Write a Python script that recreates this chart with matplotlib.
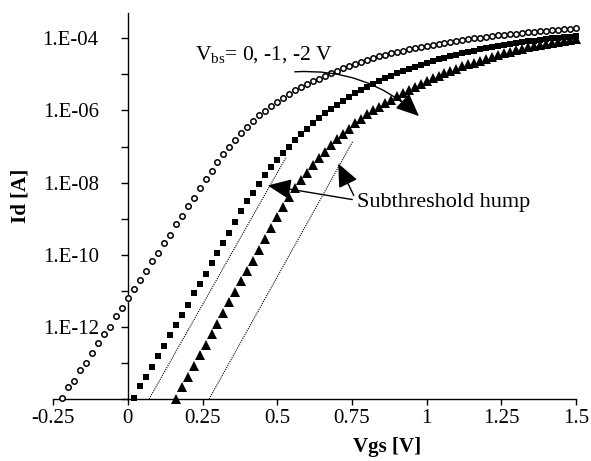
import numpy as np
import matplotlib
matplotlib.use("Agg")
import matplotlib.pyplot as plt
from matplotlib.patches import FancyArrowPatch
from matplotlib.ticker import FixedLocator, FixedFormatter, NullFormatter

plt.rcParams['font.family'] = ['Liberation Serif', 'DejaVu Serif']

# Gate sweep step and first point of each curve [V]
VGS_STEP = 0.02
vgs0_start = -0.22
vgs1_start = 0.02
vgs2_start = 0.16

# log10(Id) for Vbs = 0 V (open circles)
log_id_vbs0 = [
    -13.97, -13.66, -13.51, -13.19, -13.00, -12.72, -12.44, -12.21, -11.99, -11.70,
    -11.47, -11.19, -10.96, -10.69, -10.44, -10.18, -9.94, -9.68, -9.44, -9.16,
    -8.93, -8.65, -8.42, -8.15, -7.91, -7.68, -7.44, -7.21, -7.01, -6.81,
    -6.63, -6.46, -6.30, -6.13, -6.01, -5.88, -5.76, -5.65, -5.54,
    -5.44, -5.35, -5.27, -5.19, -5.12, -5.04, -4.97, -4.90, -4.83, -4.77,
    -4.71, -4.65, -4.60, -4.55, -4.50, -4.46, -4.42, -4.38, -4.34, -4.30,
    -4.27, -4.24, -4.21, -4.18, -4.15, -4.12, -4.10, -4.07, -4.05, -4.02,
    -4.00, -3.98, -3.96, -3.94, -3.92, -3.90, -3.88, -3.87, -3.85, -3.83,
    -3.82, -3.80, -3.79, -3.77, -3.76, -3.74, -3.73, -3.72,
]

# log10(Id) for Vbs = -1 V (filled squares)
log_id_vbs1 = [
    -13.97, -13.65, -13.38, -13.12, -12.80, -12.54, -12.23, -11.94, -11.67, -11.40,
    -11.07, -10.80, -10.53, -10.22, -9.94, -9.67, -9.39, -9.08, -8.80, -8.52,
    -8.29, -8.03, -7.80, -7.58, -7.36, -7.18, -7.00, -6.82, -6.66, -6.50,
    -6.35, -6.21, -6.08, -5.96, -5.84, -5.73, -5.62, -5.52, -5.43, -5.34,
    -5.26, -5.18, -5.11, -5.04, -4.97, -4.91, -4.85, -4.79, -4.73, -4.68,
    -4.63, -4.58, -4.54, -4.49, -4.45, -4.41, -4.37, -4.34, -4.30, -4.27,
    -4.24, -4.21, -4.18, -4.16, -4.13, -4.11, -4.08, -4.06, -4.04, -4.02,
    -4.00, -3.98, -3.97, -3.95, -3.94,
]

# log10(Id) for Vbs = -2 V (filled triangles)
log_id_vbs2 = [
    -14.00, -13.68, -13.40, -13.09, -12.79, -12.49, -12.21, -11.92, -11.62, -11.31,
    -11.03, -10.74, -10.46, -10.18, -9.88, -9.56, -9.25, -8.95, -8.67, -8.40,
    -8.15, -7.92, -7.72, -7.52, -7.33, -7.15, -6.97, -6.80, -6.65, -6.50,
    -6.36, -6.23, -6.11, -6.00, -5.90, -5.80, -5.70, -5.61, -5.52, -5.43,
    -5.34, -5.26, -5.18, -5.11, -5.04, -4.97, -4.90, -4.84, -4.78, -4.72,
    -4.67, -4.62, -4.57, -4.52, -4.47, -4.42, -4.38, -4.33, -4.29, -4.25,
    -4.22, -4.18, -4.15, -4.12, -4.10, -4.07, -4.05, -4.03,
]

# Ideal subthreshold-slope reference lines: (Vgs, log10 Id) end points
ref_line1_vgs = [0.071, 0.530]
ref_line1_log = [-14.0, -7.29]
ref_line2_vgs = [0.272, 0.752]
ref_line2_log = [-14.0, -6.87]

# Axis ticks
x_ticks = [-0.25, 0, 0.25, 0.5, 0.75, 1, 1.25, 1.5]
x_tick_labels = ['-0.25', '0', '0.25', '0.5', '0.75', '1', '1.25', '1.5']
y_major_ticks = [1e-12, 1e-10, 1e-8, 1e-6, 1e-4]
y_tick_labels = ['1.E-12', '1.E-10', '1.E-08', '1.E-06', '1.E-04']
y_minor_ticks = [1e-14, 1e-13, 1e-11, 1e-9, 1e-7, 1e-5]


def grid(start, n):
    return np.round(start + VGS_STEP * np.arange(n), 2)


vgs0 = grid(vgs0_start, len(log_id_vbs0))
vgs1 = grid(vgs1_start, len(log_id_vbs1))
vgs2 = grid(vgs2_start, len(log_id_vbs2))

W, H = 591, 461
fig = plt.figure(figsize=(W / 100, H / 100), dpi=100)
ax = fig.add_axes([53.2 / W, 1 - 399 / H, (575.9 - 53.2) / W, (399 - 13) / H])

ax.set_yscale('log')
ax.set_xlim(-0.25, 1.5)
ax.set_ylim(1e-14, 10 ** (-4 + 25.3 / 36))

# Reference lines
ax.plot(ref_line1_vgs, 10.0 ** np.array(ref_line1_log), color='black',
        linestyle=(0, (1, 1)), linewidth=0.8)
ax.plot(ref_line2_vgs, 10.0 ** np.array(ref_line2_log), color='black',
        linestyle=(0, (1, 1)), linewidth=0.8)

# Measured curves
ax.plot(vgs0, 10.0 ** np.array(log_id_vbs0), linestyle='none', marker='o',
        markersize=3.9, markerfacecolor='white', markeredgecolor='black',
        markeredgewidth=1.1, clip_on=False, zorder=3)
ax.plot(vgs1, 10.0 ** np.array(log_id_vbs1), linestyle='none', marker='s',
        markersize=4.3, color='black', markeredgewidth=0, clip_on=False, zorder=4)
ax.plot(vgs2, 10.0 ** np.array(log_id_vbs2), linestyle='none', marker='^',
        markersize=7.0, color='black', markeredgewidth=0, clip_on=False, zorder=5)

# Spines and ticks
for s in ('top', 'right'):
    ax.spines[s].set_visible(False)
ax.spines['left'].set_position(('data', 0))
ax.spines['left'].set_linewidth(1.0)
ax.spines['bottom'].set_linewidth(1.0)

ax.xaxis.set_major_locator(FixedLocator(x_ticks))
ax.xaxis.set_major_formatter(FixedFormatter(x_tick_labels))
ax.yaxis.set_major_locator(FixedLocator(y_major_ticks))
ax.yaxis.set_major_formatter(FixedFormatter(y_tick_labels))
ax.yaxis.set_minor_locator(FixedLocator(y_minor_ticks))
ax.yaxis.set_minor_formatter(NullFormatter())
ax.tick_params(axis='x', direction='out', length=4, width=1.0, labelsize=15, pad=3)
ax.tick_params(axis='y', which='both', direction='out', length=5, width=1.0)
ax.tick_params(axis='y', which='major', labelsize=15, pad=16)

ax.set_xlabel('Vgs [V]', fontsize=15, fontweight='bold')
ax.xaxis.set_label_coords((387 - 53.2) / (575.9 - 53.2), -(437 - 399) / (399 - 13))
ax.set_ylabel('Id [A]', fontsize=15, fontweight='bold', va='center')
ax.yaxis.set_label_coords((20 - 53.2) / (575.9 - 53.2), (399 - 196) / (399 - 13))


def px(x, y):
    # figure pixel -> figure fraction
    return (x / W, 1 - y / H)


# Annotations
fig.text(*px(195, 60), r'V$_{\mathregular{bs}}$= 0, -1, -2 V', fontsize=15.5,
         ha='left', va='baseline')
fig.text(*px(357, 207), 'Subthreshold hump', fontsize=16, ha='left', va='baseline')

arrow_kw = dict(transform=fig.transFigure, color='black', linewidth=1.0,
                arrowstyle='-|>,head_length=0.8,head_width=0.35', mutation_scale=18)
fig.patches.append(FancyArrowPatch(px(292, 72), px(421, 118),
                                   connectionstyle='arc3,rad=-0.22', **arrow_kw))
fig.patches.append(FancyArrowPatch(px(355, 200), px(265, 185), **arrow_kw))
fig.patches.append(FancyArrowPatch(px(355, 198), px(337, 161), **arrow_kw))

fig.savefig('out.png', dpi=100)
